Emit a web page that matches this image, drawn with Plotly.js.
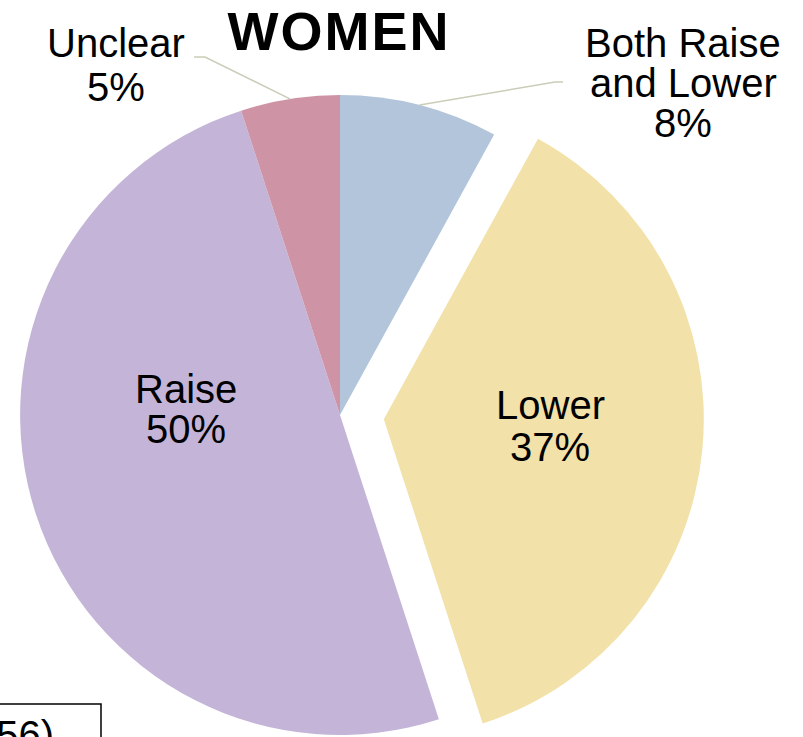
<!DOCTYPE html>
<html><head><meta charset="utf-8">
<script src="https://cdn.plot.ly/plotly-3.0.1.min.js"></script>
<style>
html,body{margin:0;padding:0;overflow:hidden;background:#fff;width:803px;height:737px;}
#chart{position:absolute;left:-40px;top:0;width:880px;height:800px;}
.gtitle{letter-spacing:2px;}
</style></head><body><div id="chart"></div>
<script>
// ---- data ----
const categories = ['Both Raise and Lower', 'Lower', 'Raise', 'Unclear'];
const labelLines = [['Both Raise', 'and Lower'], ['Lower'], ['Raise'], ['Unclear']];
const values = [8, 37, 50, 5];
const colors = ['#b3c5da', '#f2e1a8', '#c4b5d8', '#cf93a6'];
const pulls = [0, 0.1375, 0, 0];
const titleText = 'WOMEN';
const noteText = '(n = 56)';

// ---- layout geometry (screen px) ----
const W = 880, H = 800, OFFX = 40;
const CX = 340, CY = 415, R = 320;
const xp = sx => (sx + OFFX) / W;
const yp = sy => 1 - sy / H;
const maxPull = Math.max(...pulls);
const half = R * (1 + maxPull);

// label line centres and line spacing
const labelPos = [
  {x: 683, y: 43, dy: 40},   // Both Raise and Lower
  {x: 550, y: 405, dy: 42},  // Lower
  {x: 186, y: 389, dy: 40},  // Raise
  {x: 116, y: 43, dy: 44}    // Unclear
];
// leader-line elbows for outside labels
const leaderElbows = {
  0: [[555, 82], [563, 82]],
  3: [[205, 57], [194, 57]]
};

const total = values.reduce((a, b) => a + b, 0);
const font = {family: 'Liberation Sans, Arial, sans-serif', color: '#000'};

const annotations = [];
const shapes = [];
let cum = 0;
values.forEach((v, i) => {
  const mid = (cum + v / 2) / total;
  cum += v;
  const lines = labelLines[i].concat([Math.round(v / total * 100) + '%']);
  const p = labelPos[i];
  lines.forEach((t, k) => {
    annotations.push({
      text: t, showarrow: false, xref: 'paper', yref: 'paper',
      x: xp(p.x), y: yp(p.y + k * p.dy), xanchor: 'center', yanchor: 'middle',
      font: Object.assign({size: 40}, font)
    });
  });
  if (leaderElbows[i]) {
    const ang = mid * 2 * Math.PI;
    const sx = CX + R * Math.sin(ang), sy = CY - R * Math.cos(ang);
    const pts = [[sx, sy]].concat(leaderElbows[i]);
    const path = pts.map((q, j) => (j ? 'L' : 'M') + xp(q[0]) + ',' + yp(q[1])).join(' ');
    shapes.push({type: 'path', xref: 'paper', yref: 'paper', path: path,
      line: {color: '#c8ceb8', width: 1.5}});
  }
});

// note box, bottom-left (mostly cut off)
shapes.push({type: 'rect', xref: 'paper', yref: 'paper',
  x0: xp(-60), x1: xp(101), y0: yp(704), y1: yp(800),
  line: {color: '#000', width: 1.5}, fillcolor: 'rgba(0,0,0,0)'});
annotations.push({text: noteText, showarrow: false, xref: 'paper', yref: 'paper',
  x: xp(56), y: yp(735), xanchor: 'right', yanchor: 'middle',
  font: Object.assign({size: 40}, font)});

const trace = {
  type: 'pie',
  labels: categories,
  values: values,
  sort: false,
  direction: 'clockwise',
  rotation: 0,
  pull: pulls,
  marker: {colors: colors, line: {width: 0}},
  textinfo: 'none',
  hoverinfo: 'label+percent',
  showlegend: false,
  domain: {x: [xp(CX - half), xp(CX + half)], y: [yp(CY + half), yp(CY - half)]}
};

const layout = {
  width: W, height: H,
  margin: {l: 0, r: 0, t: 0, b: 0},
  paper_bgcolor: '#fff', plot_bgcolor: '#fff',
  showlegend: false,
  title: {text: '<b>' + titleText + '</b>', x: xp(339), xanchor: 'center', xref: 'paper',
    y: yp(31), yanchor: 'middle', yref: 'paper',
    font: {family: 'Liberation Sans, Arial, sans-serif', size: 54, color: '#000'}},
  annotations: annotations,
  shapes: shapes
};

Plotly.newPlot('chart', [trace], layout, {displayModeBar: false, staticPlot: true});
</script></body></html>
